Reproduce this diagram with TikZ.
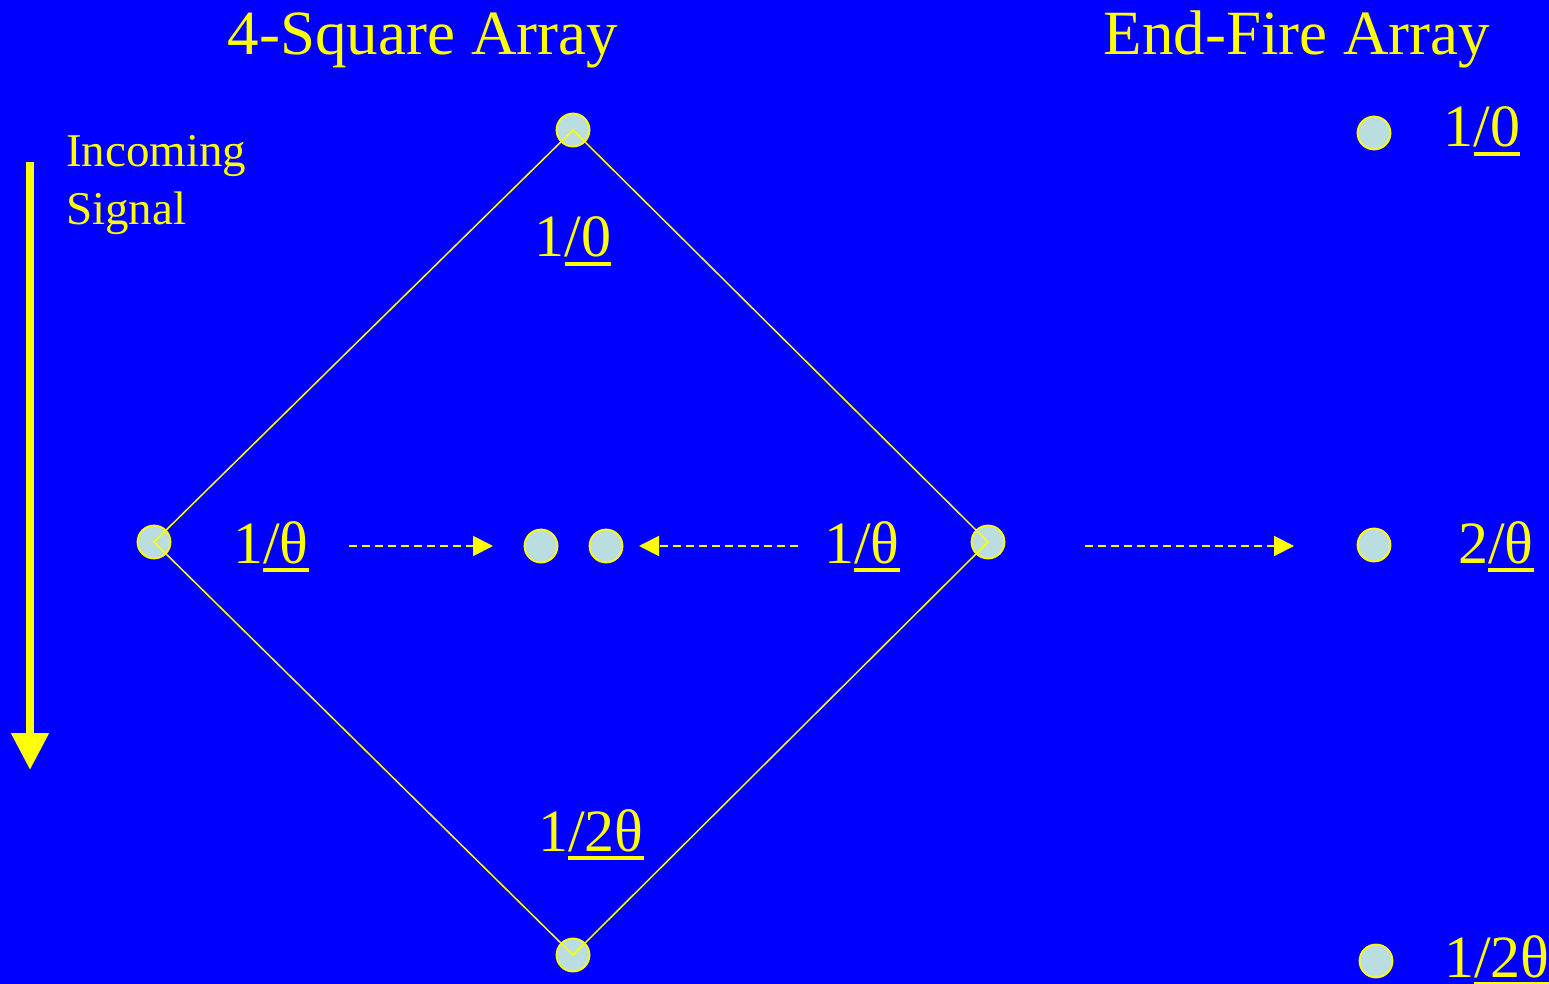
\documentclass[tikz,border=0pt]{standalone}
\usepackage{fontspec}
\setmainfont{Liberation Serif}
\usepackage{tikz}
\usetikzlibrary{arrows.meta,positioning}
\definecolor{slideblue}{HTML}{0000FF}
\definecolor{slideyel}{HTML}{FFFF00}
\definecolor{elemfill}{HTML}{BADEE0}
\tikzset{
  elem/.style={circle,draw=slideyel,fill=elemfill,line width=1.8pt,
               minimum size=33pt,inner sep=0pt},
  phase/.style={text=slideyel,font=\fontsize{60}{72}\selectfont,
                inner sep=0pt,anchor=base},
  title/.style={text=slideyel,font=\fontsize{63}{75}\selectfont,
                inner sep=0pt,anchor=base},
  feedline/.style={draw=slideyel,line width=1.5pt},
  shiftarr/.style={draw=slideyel,line width=2pt,dash pattern=on 8pt off 5pt,
                   -{Triangle[length=20pt,width=20pt]}},
  sigarr/.style={draw=slideyel,line width=8pt,
                 -{Triangle[length=37pt,width=36pt]}}
}
\newcommand{\ulbar}[1]{\setbox0\hbox{#1}\rlap{\rule[-9pt]{\wd0}{4pt}}\box0}
\newcommand{\ph}[2]{#1\ulbar{/#2}}

\begin{document}
\begin{tikzpicture}[x=1pt,y=-1pt]
  \fill[slideblue] (0,0) rectangle (1549,984);
  \useasboundingbox (0,0) rectangle (1549,984);

  % titles
  \node[title] (tSq) at (423,55) {4-Square Array};
  \node[title] (tEf) at (1297,55) {End-Fire Array};

  % incoming signal
  \coordinate (sigA) at (30,162);
  \coordinate (sigB) at (30,770);
  \draw[sigarr] (sigA) -- (sigB);
  \node[text=slideyel,font=\fontsize{47}{58}\selectfont,align=left,
        inner sep=0pt,anchor=base west] (sig) at (66,225) {Incoming\\Signal};

  % 4-square elements
  \node[elem] (eTop) at (573,130) {};
  \node[elem] (eLeft) at (154,542) {};
  \node[elem] (eRight) at (988,542) {};
  \node[elem] (eBot) at (573,955) {};
  \node[elem] (eMidA) at (541,546) {};
  \node[elem] (eMidB) at (606,546) {};
  \draw[feedline] (eTop.center) -- (eRight.center) -- (eBot.center)
    -- (eLeft.center) -- cycle;

  \node[phase] (pTop) at (573,257) {\ph{1}{0}};
  \node[phase] (pLeft) at (271,563) {\ph{1}{θ}};
  \node[phase] (pRight) at (862,563) {\ph{1}{θ}};
  \node[phase] (pBot) at (591,851) {\ph{1}{2θ}};

  % shifting arrows
  \coordinate (aL1) at (349,546);
  \coordinate (aL2) at (493,546);
  \coordinate (aR1) at (798,546);
  \coordinate (aR2) at (639,546);
  \coordinate (aE1) at (1085,546);
  \coordinate (aE2) at (1294,546);
  \draw[shiftarr] (aL1) -- (aL2);
  \draw[shiftarr] (aR1) -- (aR2);
  \draw[shiftarr] (aE1) -- (aE2);

  % end-fire elements
  \node[elem] (fTop) at (1374,133) {};
  \node[elem] (fMid) at (1374,545) {};
  \node[elem] (fBot) at (1376,961) {};
  \node[phase] (qTop) at (1482,147) {\ph{1}{0}};
  \node[phase] (qMid) at (1496,563) {\ph{2}{θ}};
  \node[phase,anchor=base west] (qBot) at (1444,977) {\ph{1}{2θ}};
\end{tikzpicture}
\end{document}
